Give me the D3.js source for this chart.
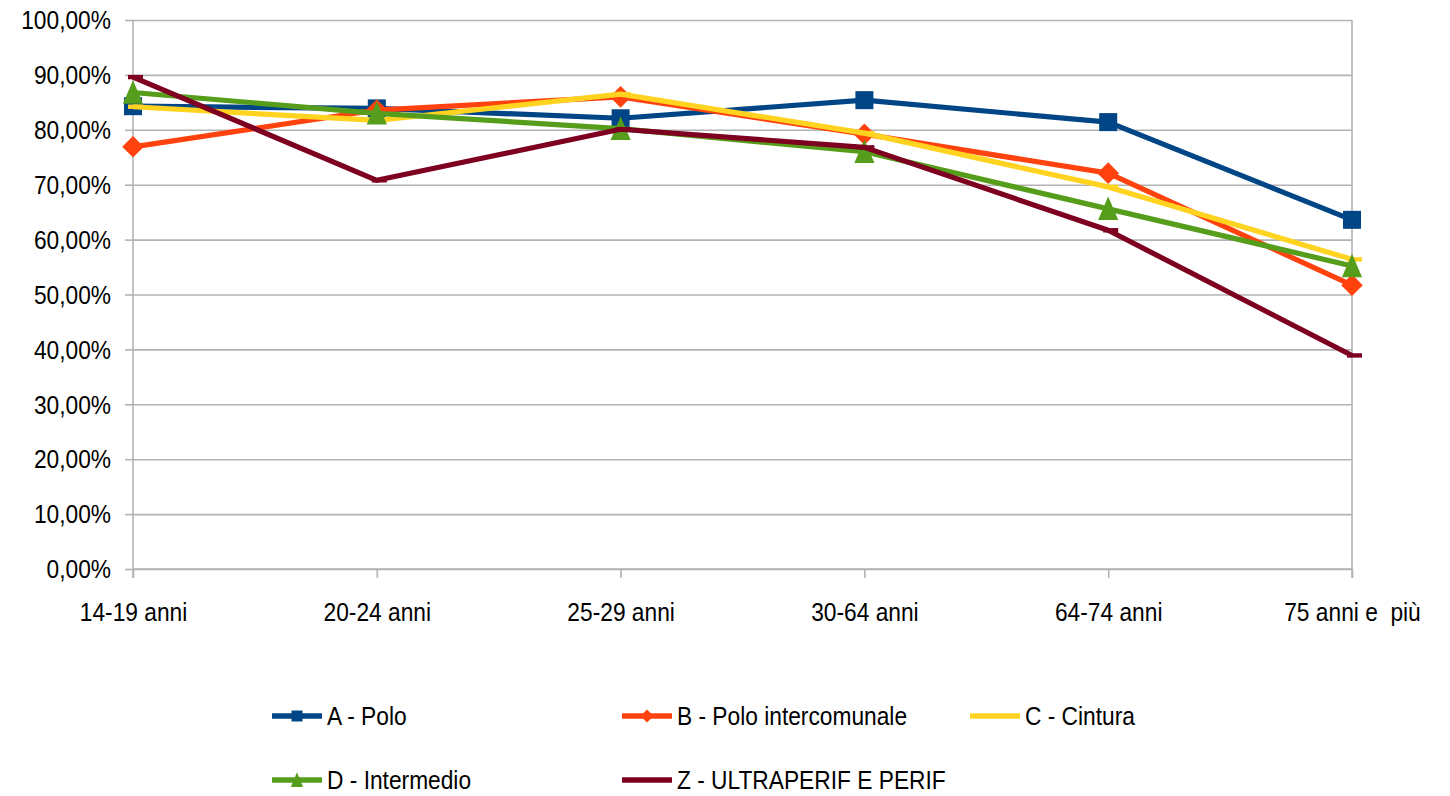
<!DOCTYPE html>
<html><head><meta charset="utf-8">
<script src="https://cdn.jsdelivr.net/npm/d3@7"></script>
<style>
body{margin:0;background:#fff}
text{font-family:"Liberation Sans",Arial,sans-serif;fill:#000;white-space:pre}
</style>
</head><body><svg id="c" width="1450" height="796"></svg>
<script>
const categories = ["14-19 anni","20-24 anni","25-29 anni","30-64 anni","64-74 anni","75 anni e  più"];
const seriesNames = ["A - Polo","B - Polo intercomunale","C - Cintura","D - Intermedio","Z - ULTRAPERIF E PERIF"];
const seriesA = [84.3, 83.9, 82.1, 85.4, 81.4, 63.6];
const seriesB = [76.9, 83.6, 86.0, 79.2, 72.1, 51.7];
const seriesC = [84.2, 81.7, 86.5, 79.4, 69.6, 56.4];
const seriesD = [86.8, 83.0, 80.2, 76.0, 65.6, 55.2];
const seriesZ = [89.6, 70.8, 80.1, 76.8, 61.7, 38.9];
const yTicks = [0,10,20,30,40,50,60,70,80,90,100];
const colors = ["#004586","#ff420e","#ffd320","#579d1c","#7e0021"];
const markers = ["square","diamond","dash","triangle","dash"];
const allSeries = [seriesA, seriesB, seriesC, seriesD, seriesZ];

(function(){
const SX = 0.91, FS = 25;
const svg = d3.select("#c");
const pL = 133, pR = 1352, pT = 20, pB = 569;
const x = d3.scalePoint().domain(categories).range([pL, pR]);
const y = d3.scaleLinear().domain([0, 100]).range([pB, pT]);
const grid = "#b3b3b3";

// gridlines
const gg = svg.append("g").attr("transform", `translate(${pL},0)`)
  .call(d3.axisLeft(y).tickValues(yTicks).tickSize(-(pR - pL)).tickFormat(""));
gg.select(".domain").remove();
gg.selectAll("line").attr("stroke", grid).attr("stroke-width", 1.6);

// y axis
const ya = svg.append("g").attr("transform", `translate(${pL},0)`)
  .call(d3.axisLeft(y).tickValues(yTicks).tickSize(8).tickPadding(0)
    .tickFormat(d => d.toFixed(2).replace(".", ",") + "%"));
ya.select(".domain").attr("stroke", grid).attr("stroke-width", 1.6).attr("d", `M0,${pT}V${pB + 9}`);
ya.selectAll("line").attr("stroke", grid).attr("stroke-width", 1.6);
ya.selectAll("text").attr("font-size", FS).attr("fill", "#000")
  .attr("x", -22 / SX).attr("dy", "0.35em").attr("transform", `scale(${SX},1)`)
  .attr("font-family", '"Liberation Sans",Arial,sans-serif');

// right border
svg.append("line").attr("x1", pR).attr("x2", pR).attr("y1", pT).attr("y2", pB + 9)
  .attr("stroke", grid).attr("stroke-width", 1.6);

// x axis
const xa = svg.append("g").attr("transform", `translate(0,${pB})`)
  .call(d3.axisBottom(x).tickSize(9).tickPadding(0));
xa.select(".domain").attr("stroke", grid).attr("stroke-width", 1.6).attr("d", `M${pL},0H${pR}`);
xa.selectAll("line").attr("stroke", grid).attr("stroke-width", 1.6);
xa.selectAll("text").attr("font-size", FS).attr("fill", "#000")
  .attr("y", 52).attr("dy", 0).attr("transform", `scale(${SX},1)`)
  .attr("font-family", '"Liberation Sans",Arial,sans-serif');

function drawMarker(g, type, cx, cy, color, s) {
  if (type === "square") {
    g.append("rect").attr("x", cx - s/2).attr("y", cy - s/2).attr("width", s).attr("height", s).attr("fill", color);
  } else if (type === "diamond") {
    const r = s * 0.6;
    g.append("path").attr("d", `M${cx},${cy-r}L${cx+r},${cy}L${cx},${cy+r}L${cx-r},${cy}Z`).attr("fill", color);
  } else if (type === "triangle") {
    const h = s * 1.25, w = s * 1.12;
    g.append("path").attr("d", `M${cx},${cy-h/2-1}L${cx+w/2},${cy+h/2}L${cx-w/2},${cy+h/2}Z`).attr("fill", color);
  } else if (type === "dash") {
    g.append("rect").attr("x", cx - 5).attr("y", cy - 2.2).attr("width", 15).attr("height", 4.4).attr("fill", color);
  }
}

const line = d3.line().x((d, i) => x(categories[i])).y(d => y(d));
allSeries.forEach((vals, si) => {
  const g = svg.append("g");
  g.append("path").datum(vals).attr("d", line).attr("fill", "none")
    .attr("stroke", colors[si]).attr("stroke-width", 5.2).attr("stroke-linejoin", "round");
  vals.forEach((v, i) => drawMarker(g, markers[si], x(categories[i]), y(v), colors[si], 18));
});

// legend
const legendPos = [[272, 716], [622, 716], [970, 716], [272, 780], [622, 780]];
seriesNames.forEach((name, si) => {
  const [lx, ly] = legendPos[si];
  const g = svg.append("g");
  g.append("line").attr("x1", lx).attr("x2", lx + 50).attr("y1", ly).attr("y2", ly)
    .attr("stroke", colors[si]).attr("stroke-width", 5.5);
  if (markers[si] !== "dash") drawMarker(g, markers[si], lx + 25, ly, colors[si], 11);
  g.append("text").attr("x", (lx + 55) / SX).attr("y", ly).attr("dy", "0.35em")
    .attr("transform", `scale(${SX},1)`).attr("font-size", FS).text(name);
});
})();
</script></body></html>
